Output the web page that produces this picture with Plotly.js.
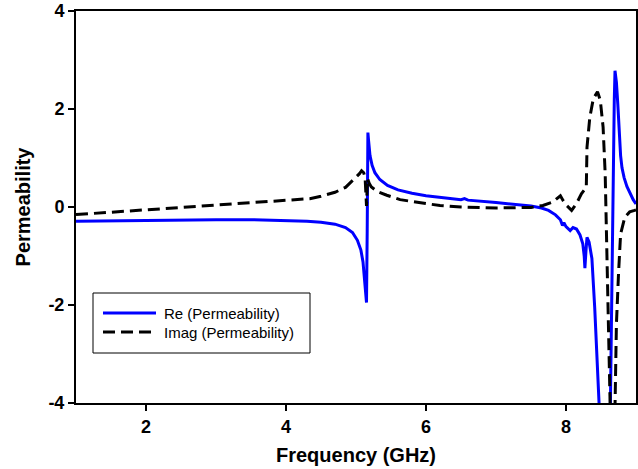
<!DOCTYPE html>
<html>
<head>
<meta charset="utf-8">
<script src="https://cdn.plot.ly/plotly-3.0.1.min.js"></script>
<style>
html,body{margin:0;padding:0;background:#fff;}
#chart{width:638px;height:469px;}
#chart .xtick text, #chart .ytick text {font-family:"Liberation Sans", Arial, sans-serif !important; font-weight:bold !important; font-size:18px !important;}
</style>
</head>
<body>
<div id="chart"></div>
<script>
// Real part of permeability (blue solid)
const reFreq = [1.0,1.5,2.0,2.5,3.0,3.5,4.0,4.3,4.5,4.7,4.85,4.95,5.02,5.07,5.10,5.12,5.14,5.15,5.16,5.165,5.17,5.18,5.20,5.23,5.27,5.34,5.45,5.6,5.8,6.0,6.3,6.5,6.55,6.6,7.0,7.3,7.5,7.65,7.75,7.85,7.92,7.95,7.97,8.0,8.03,8.06,8.1,8.15,8.2,8.24,8.26,8.27,8.285,8.30,8.33,8.37,8.41,8.46,8.49,8.53,8.60,8.63,8.66,8.69,8.70,8.72,8.74,8.76,8.78,8.80,8.83,8.87,8.92,8.96,9.0];
const reVals = [-0.29,-0.28,-0.27,-0.26,-0.26,-0.26,-0.27,-0.29,-0.31,-0.35,-0.42,-0.52,-0.68,-0.88,-1.12,-1.45,-1.85,-1.95,-0.5,1.0,1.52,1.35,1.05,0.85,0.70,0.56,0.44,0.35,0.28,0.23,0.18,0.15,0.17,0.14,0.09,0.05,0.02,-0.02,-0.07,-0.16,-0.26,-0.38,-0.32,-0.40,-0.45,-0.48,-0.42,-0.45,-0.57,-0.75,-1.0,-1.25,-0.9,-0.62,-0.72,-1.05,-2.05,-3.42,-4.1,-6.0,-8.0,-4.5,-0.5,2.2,2.78,2.55,2.1,1.5,1.05,0.8,0.6,0.42,0.26,0.15,0.06];

// Imaginary part of permeability (black dashed)
const imFreq = [1.0,2.0,3.0,4.0,4.34,4.5,4.7,4.85,4.96,5.05,5.08,5.11,5.13,5.15,5.165,5.19,5.22,5.3,5.44,5.63,5.9,6.2,6.5,7.0,7.5,7.67,7.81,7.92,7.96,8.01,8.08,8.15,8.22,8.29,8.30,8.34,8.39,8.45,8.49,8.53,8.56,8.58,8.61,8.63,8.66,8.70,8.72,8.75,8.78,8.84,8.91,8.98,9.0];
const imVals = [-0.155,-0.06,0.04,0.14,0.17,0.22,0.30,0.40,0.55,0.68,0.74,0.70,0.60,0.02,0.58,0.48,0.41,0.32,0.24,0.15,0.09,0.03,0.0,-0.02,-0.01,0.03,0.10,0.23,0.13,0.03,-0.07,0.07,0.27,0.40,1.22,1.83,2.21,2.35,2.18,1.63,0.67,-0.69,-2.4,-4.1,-6.0,-4.1,-2.4,-1.37,-0.55,-0.21,-0.10,-0.07,-0.06];

const xTickVals = [2,4,6,8];
const xTickText = ['2','4','6','8'];
const yTickVals = [-4,-2,0,2,4];
const yTickText = ['-4','-2','0','2','4'];
const seriesNames = ['Re (Permeability)','Imag (Permeability)'];
const seriesColors = ['#0000ff','#000000'];
const seriesDash = ['solid','12px,6px'];

const traces = [
  {x: reFreq, y: reVals, type: 'scatter', mode: 'lines', name: seriesNames[0],
   line: {color: seriesColors[0], width: 3, dash: seriesDash[0]}},
  {x: imFreq, y: imVals, type: 'scatter', mode: 'lines', name: seriesNames[1],
   line: {color: seriesColors[1], width: 3, dash: seriesDash[1]}}
];

const fam = 'Liberation Sans, Arial, sans-serif';
const mkTickFont = () => ({family: fam, size: 18, color: '#000', weight: 'bold'});
const mkTitleFont = () => ({family: fam, size: 20, color: '#000', weight: 'bold'});
const bold = s => '<b>' + s + '</b>';

// Legend drawn in paper coordinates (plot area 76..636 x 11..403 px)
const W = 560, H = 392, L = 76, B = 403;
const px = v => (v - L) / W;
const py = v => (B - v) / H;
const legRows = [313, 332];
const shapes = [
  {type: 'rect', xref: 'paper', yref: 'paper', x0: px(93), x1: px(310), y0: py(353), y1: py(293),
   line: {color: '#000', width: 1}, fillcolor: '#fff', layer: 'above'}
];
const annotations = [];
seriesNames.forEach((n, i) => {
  shapes.push({type: 'line', xref: 'paper', yref: 'paper', x0: px(103), x1: px(156),
    y0: py(legRows[i]), y1: py(legRows[i]), layer: 'above',
    line: {color: seriesColors[i], width: 3, dash: seriesDash[i]}});
  annotations.push({xref: 'paper', yref: 'paper', x: px(162), y: py(legRows[i]),
    xanchor: 'left', yanchor: 'middle', showarrow: false, text: n,
    font: {family: fam, size: 15, color: '#000'}});
});

const layout = {
  width: 638, height: 469,
  margin: {l: 76, r: 2, t: 11, b: 66},
  paper_bgcolor: '#fff', plot_bgcolor: '#fff',
  showlegend: false,
  shapes: shapes,
  annotations: annotations,
  xaxis: {range: [1, 9], tickmode: 'array', tickvals: xTickVals, ticktext: xTickText.map(bold),
    tickfont: mkTickFont(),
    ticks: 'outside', ticklen: 6, tickwidth: 1.5,
    tickcolor: '#000', showline: true, linecolor: '#000', linewidth: 2, mirror: true,
    showgrid: false, zeroline: false,
    title: {text: 'Frequency (GHz)', font: mkTitleFont(), standoff: 12}},
  yaxis: {range: [-4, 4], tickmode: 'array', tickvals: yTickVals, ticktext: yTickText.map(bold),
    tickfont: mkTickFont(),
    ticks: 'outside', ticklen: 6, tickwidth: 1.5,
    tickcolor: '#000', showline: true, linecolor: '#000', linewidth: 2, mirror: true,
    showgrid: false, zeroline: false,
    title: {text: 'Permeability', font: mkTitleFont(), standoff: 12}}
};

Plotly.newPlot('chart', traces, layout, {displayModeBar: false});
</script>
</body>
</html>
